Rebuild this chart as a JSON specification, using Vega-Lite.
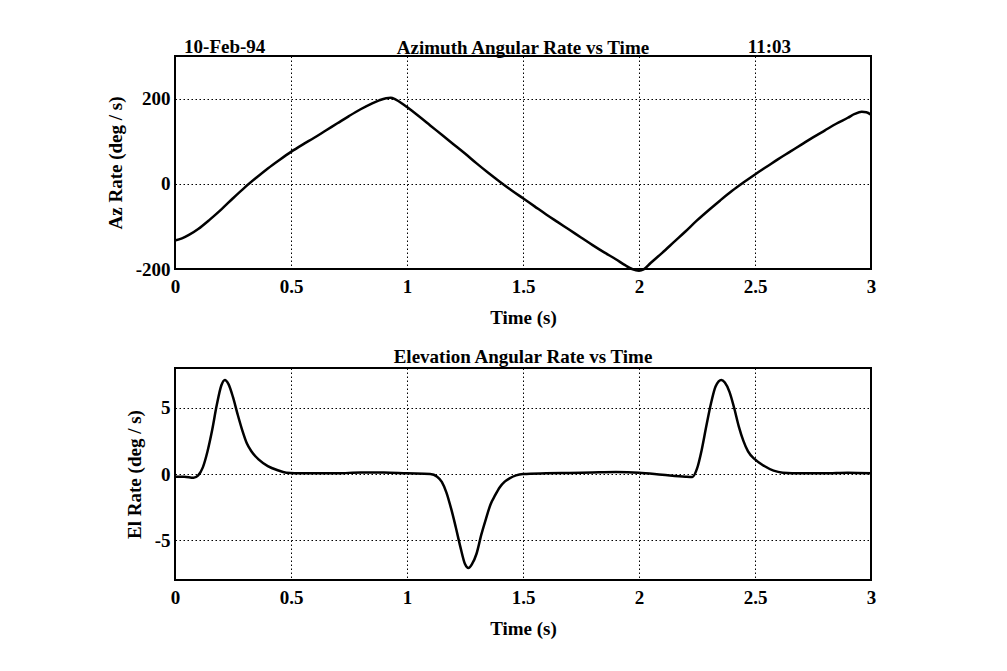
{
  "$schema": "https://vega.github.io/schema/vega-lite/v6.json",
  "background": "white",
  "padding": {"left": 105, "top": 37, "right": 5, "bottom": 5},
  "spacing": 19,
  "datasets": {
    "az": [
      {"t": 0, "rate": -133}, {"t": 0.03, "rate": -128}, {"t": 0.06, "rate": -120}, {"t": 0.1, "rate": -106},
      {"t": 0.15, "rate": -84}, {"t": 0.2, "rate": -60}, {"t": 0.25, "rate": -34}, {"t": 0.3, "rate": -9},
      {"t": 0.35, "rate": 14}, {"t": 0.4, "rate": 36}, {"t": 0.45, "rate": 56}, {"t": 0.5, "rate": 75},
      {"t": 0.55, "rate": 92}, {"t": 0.6, "rate": 108}, {"t": 0.65, "rate": 125}, {"t": 0.7, "rate": 142},
      {"t": 0.75, "rate": 159}, {"t": 0.8, "rate": 175}, {"t": 0.85, "rate": 189}, {"t": 0.88, "rate": 196},
      {"t": 0.91, "rate": 201}, {"t": 0.93, "rate": 202}, {"t": 0.95, "rate": 198}, {"t": 0.98, "rate": 188},
      {"t": 1.0, "rate": 180}, {"t": 1.05, "rate": 159}, {"t": 1.1, "rate": 137}, {"t": 1.15, "rate": 115},
      {"t": 1.2, "rate": 93}, {"t": 1.25, "rate": 71}, {"t": 1.3, "rate": 48}, {"t": 1.35, "rate": 26},
      {"t": 1.4, "rate": 5}, {"t": 1.45, "rate": -15}, {"t": 1.5, "rate": -34}, {"t": 1.55, "rate": -53},
      {"t": 1.6, "rate": -72}, {"t": 1.65, "rate": -90}, {"t": 1.7, "rate": -108}, {"t": 1.75, "rate": -126},
      {"t": 1.8, "rate": -144}, {"t": 1.85, "rate": -161}, {"t": 1.9, "rate": -177}, {"t": 1.94, "rate": -191},
      {"t": 1.97, "rate": -200}, {"t": 2.0, "rate": -204}, {"t": 2.02, "rate": -201}, {"t": 2.05, "rate": -186},
      {"t": 2.1, "rate": -162}, {"t": 2.15, "rate": -137}, {"t": 2.2, "rate": -112}, {"t": 2.25, "rate": -86},
      {"t": 2.3, "rate": -62}, {"t": 2.35, "rate": -39}, {"t": 2.4, "rate": -17}, {"t": 2.45, "rate": 3},
      {"t": 2.5, "rate": 22}, {"t": 2.55, "rate": 40}, {"t": 2.6, "rate": 58}, {"t": 2.65, "rate": 75},
      {"t": 2.7, "rate": 92}, {"t": 2.75, "rate": 109}, {"t": 2.8, "rate": 125}, {"t": 2.85, "rate": 141},
      {"t": 2.9, "rate": 155}, {"t": 2.93, "rate": 164}, {"t": 2.96, "rate": 169}, {"t": 2.98, "rate": 168},
      {"t": 3.0, "rate": 162}
    ],
    "el": [
      {"t": 0, "rate": -0.2}, {"t": 0.04, "rate": -0.2}, {"t": 0.08, "rate": -0.28}, {"t": 0.1, "rate": -0.1},
      {"t": 0.12, "rate": 0.5}, {"t": 0.14, "rate": 1.7}, {"t": 0.16, "rate": 3.3}, {"t": 0.18, "rate": 5.2},
      {"t": 0.2, "rate": 6.7}, {"t": 0.215, "rate": 7.1}, {"t": 0.23, "rate": 6.8}, {"t": 0.25, "rate": 5.8},
      {"t": 0.27, "rate": 4.5}, {"t": 0.29, "rate": 3.3}, {"t": 0.31, "rate": 2.3}, {"t": 0.33, "rate": 1.7},
      {"t": 0.36, "rate": 1.1}, {"t": 0.4, "rate": 0.6}, {"t": 0.44, "rate": 0.3}, {"t": 0.48, "rate": 0.1},
      {"t": 0.55, "rate": 0.05}, {"t": 0.7, "rate": 0.05}, {"t": 0.8, "rate": 0.12}, {"t": 0.9, "rate": 0.12},
      {"t": 1.0, "rate": 0.05}, {"t": 1.1, "rate": 0.0}, {"t": 1.13, "rate": -0.2}, {"t": 1.15, "rate": -0.6},
      {"t": 1.17, "rate": -1.4}, {"t": 1.19, "rate": -2.6}, {"t": 1.21, "rate": -4.0}, {"t": 1.23, "rate": -5.5},
      {"t": 1.25, "rate": -6.8}, {"t": 1.265, "rate": -7.1}, {"t": 1.28, "rate": -6.8}, {"t": 1.3, "rate": -6.0},
      {"t": 1.32, "rate": -4.6}, {"t": 1.34, "rate": -3.4}, {"t": 1.36, "rate": -2.3}, {"t": 1.38, "rate": -1.6},
      {"t": 1.4, "rate": -1.0}, {"t": 1.42, "rate": -0.6}, {"t": 1.44, "rate": -0.35}, {"t": 1.47, "rate": -0.1},
      {"t": 1.5, "rate": 0.0}, {"t": 1.6, "rate": 0.05}, {"t": 1.7, "rate": 0.08}, {"t": 1.8, "rate": 0.12},
      {"t": 1.9, "rate": 0.15}, {"t": 2.0, "rate": 0.1}, {"t": 2.1, "rate": -0.05}, {"t": 2.2, "rate": -0.2},
      {"t": 2.23, "rate": -0.22}, {"t": 2.25, "rate": 0.4}, {"t": 2.27, "rate": 1.8}, {"t": 2.29, "rate": 3.6},
      {"t": 2.31, "rate": 5.3}, {"t": 2.33, "rate": 6.6}, {"t": 2.355, "rate": 7.1}, {"t": 2.37, "rate": 6.9},
      {"t": 2.39, "rate": 6.2}, {"t": 2.41, "rate": 5.0}, {"t": 2.43, "rate": 3.6}, {"t": 2.45, "rate": 2.5},
      {"t": 2.47, "rate": 1.7}, {"t": 2.5, "rate": 1.1}, {"t": 2.54, "rate": 0.6}, {"t": 2.58, "rate": 0.25},
      {"t": 2.62, "rate": 0.1}, {"t": 2.7, "rate": 0.05}, {"t": 2.8, "rate": 0.05}, {"t": 2.9, "rate": 0.1},
      {"t": 3.0, "rate": 0.05}
    ]
  },
  "config": {
    "font": "Liberation Serif",
    "view": {"stroke": "black", "strokeWidth": 2},
    "axis": {
      "domain": false,
      "ticks": false,
      "grid": true,
      "gridColor": "black",
      "gridOpacity": 1,
      "gridWidth": 1,
      "gridDash": [1.5, 2.5],
      "labelFont": "Liberation Serif",
      "labelFontSize": 19,
      "labelFontWeight": "bold",
      "labelColor": "black",
      "labelExpr": "datum.value + ''",
      "titleFont": "Liberation Serif",
      "titleFontSize": 19,
      "titleFontWeight": "bold",
      "titleColor": "black"
    },
    "title": {
      "font": "Liberation Serif",
      "fontSize": 19,
      "fontWeight": "bold",
      "color": "black",
      "anchor": "middle",
      "baseline": "alphabetic",
      "offset": 3
    }
  },
  "vconcat": [
    {
      "width": 696,
      "height": 213,
      "title": {"text": "Azimuth Angular Rate vs Time", "dy": 23},
      "layer": [
        {
          "data": {"name": "az"},
          "mark": {"type": "line", "color": "black", "strokeWidth": 2.5, "interpolate": "monotone"},
          "encoding": {
            "x": {"field": "t", "type": "quantitative", "scale": {"domain": [0, 3], "nice": false},
                  "axis": {"title": "Time (s)", "values": [0, 0.5, 1, 1.5, 2, 2.5, 3], "labelPadding": 8, "titlePadding": 12, "labelFlush": false}},
            "y": {"field": "rate", "type": "quantitative", "scale": {"domain": [-200, 300], "nice": false, "zero": false},
                  "axis": {"title": "Az Rate (deg / s)", "values": [-200, 0, 200], "labelPadding": 5, "titlePadding": 10}}
          }
        },
        {
          "mark": {"type": "text", "align": "left", "baseline": "alphabetic", "font": "Liberation Serif", "fontSize": 19, "fontWeight": "bold", "color": "black"},
          "data": {"values": [{"label": "10-Feb-94"}]},
          "encoding": {
            "x": {"datum": 0.039, "type": "quantitative"},
            "y": {"datum": 307, "type": "quantitative"},
            "text": {"field": "label"}
          }
        },
        {
          "mark": {"type": "text", "align": "right", "baseline": "alphabetic", "font": "Liberation Serif", "fontSize": 19, "fontWeight": "bold", "color": "black"},
          "data": {"values": [{"label": "11:03"}]},
          "encoding": {
            "x": {"datum": 2.655, "type": "quantitative"},
            "y": {"datum": 307, "type": "quantitative"},
            "text": {"field": "label"}
          }
        }
      ]
    },
    {
      "width": 696,
      "height": 212,
      "title": {"text": "Elevation Angular Rate vs Time", "offset": 1},
      "data": {"name": "el"},
      "mark": {"type": "line", "color": "black", "strokeWidth": 2.5, "interpolate": "monotone"},
      "encoding": {
        "x": {"field": "t", "type": "quantitative", "scale": {"domain": [0, 3], "nice": false},
              "axis": {"title": "Time (s)", "values": [0, 0.5, 1, 1.5, 2, 2.5, 3], "labelPadding": 8, "titlePadding": 12, "labelFlush": false}},
        "y": {"field": "rate", "type": "quantitative", "scale": {"domain": [-8, 8], "nice": false, "zero": false},
              "axis": {"title": "El Rate (deg / s)", "values": [-5, 0, 5], "labelPadding": 5, "titlePadding": 10}}
      }
    }
  ]
}
